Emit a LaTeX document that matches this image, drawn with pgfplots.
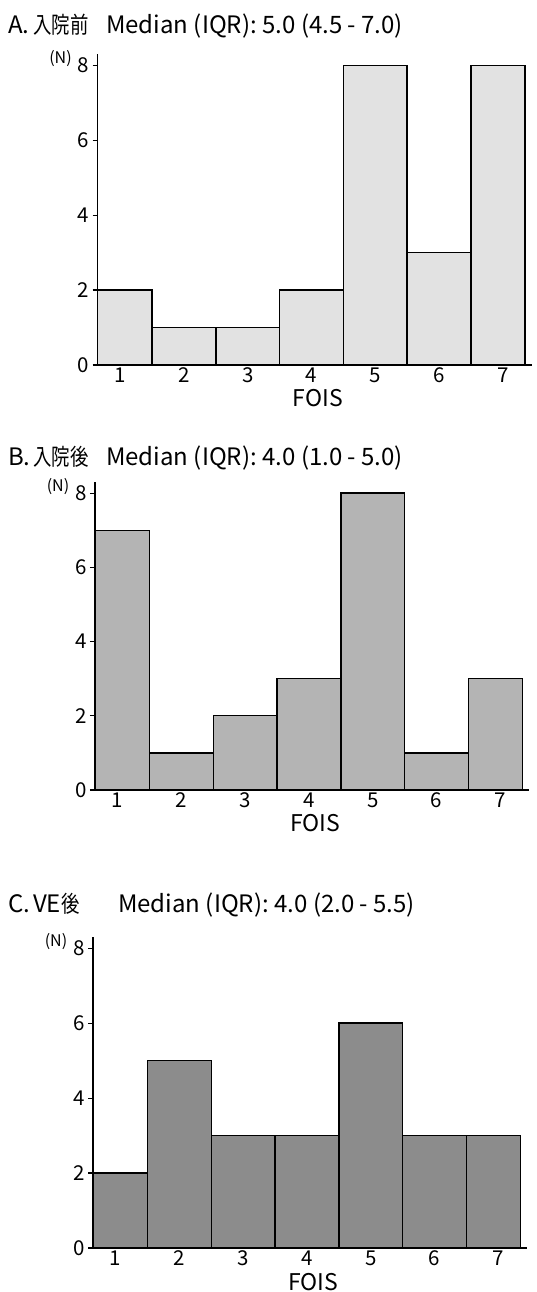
\documentclass[border=0pt]{standalone}
\usepackage{fontspec}
\setmainfont{Noto Sans CJK JP}
\usepackage{graphicx}
\newcommand\kj[1]{\scalebox{0.8}[1]{\fontsize{23}{23}\selectfont #1}}
\usepackage{pgfplots}
\pgfplotsset{compat=1.18}
\definecolor{fillA}{HTML}{E2E2E2}
\definecolor{fillB}{HTML}{B4B4B4}
\definecolor{fillC}{HTML}{8C8C8C}
\pgfplotsset{
  fois/.style={
    scale only axis,
    width=434pt,
    xmin=0.645, xmax=7.45, ymin=0, ymax=8.3,
    axis x line=bottom, axis y line=left,
    axis line style={-, line width=1.3pt, black},
    xtick={1,2,3,4,5,6,7}, ytick={0,2,4,6,8},
    x tick style={draw=none},
    y tick style={line width=1.2pt, black},
    major tick length=5pt, tick align=outside,
    tick label style={font=\fontsize{20.5}{20.5}\selectfont},
    x tick label style={anchor=base, inner sep=0pt, text height=0.66em, text depth=0pt, yshift=-13pt},
    /pgf/number format/assume math mode=true,
    xlabel={FOIS},
    xlabel style={font=\fontsize{23}{23}\selectfont, at={(axis cs:4.1,0)}, anchor=base, inner sep=0pt, text height=0.66em, text depth=0pt, yshift=-42pt},
    clip=false,
    anchor=south west,
  },
  hist/.style={ybar interval, draw=black, line width=1.4pt, fill=#1},
}
\begin{document}
\begin{tikzpicture}
\useasboundingbox (0,0) rectangle (537pt,1292pt);
\tikzset{ttl/.style={anchor=base west, inner sep=0pt, font=\fontsize{24}{24}\selectfont}}
% titles
\node[ttl] at (8pt,1258.5pt) {A.};
\node[ttl] at (33pt,1258.5pt) {\kj{入院前}};
\node[ttl] at (106pt,1258.5pt) {Median (IQR): 5.0 (4.5 - 7.0)};
\node[ttl] at (8pt,826.5pt) {B.};
\node[ttl] at (33pt,826.5pt) {\kj{入院後}};
\node[ttl] at (106pt,826.5pt) {Median (IQR): 4.0 (1.0 - 5.0)};
\node[ttl] at (8pt,379.5pt) {C.\hspace{0.12em}VE\kj{後}};
\node[ttl] at (118pt,379.5pt) {Median (IQR): 4.0 (2.0 - 5.5)};

% Panel A
\begin{axis}[fois, at={(97.5pt,927pt)}, height=311pt]
\addplot[hist=fillA] coordinates {(0.645,2) (1.5,1) (2.5,1) (3.5,2) (4.5,8) (5.5,3) (6.5,8) (7.345,8)};
\node[font=\fontsize{16}{16}\selectfont] at ([xshift=-37pt,yshift=7pt]axis cs:0.645,8) {(N)};
\end{axis}

% Panel B
\begin{axis}[fois, at={(95pt,502pt)}, height=308pt]
\addplot[hist=fillB] coordinates {(0.645,7) (1.5,1) (2.5,2) (3.5,3) (4.5,8) (5.5,1) (6.5,3) (7.345,3)};
\node[font=\fontsize{16}{16}\selectfont] at ([xshift=-37pt,yshift=7pt]axis cs:0.645,8) {(N)};
\end{axis}

% Panel C
\begin{axis}[fois, at={(93pt,44pt)}, height=311pt]
\addplot[hist=fillC] coordinates {(0.645,2) (1.5,5) (2.5,3) (3.5,3) (4.5,6) (5.5,3) (6.5,3) (7.345,3)};
\node[font=\fontsize{16}{16}\selectfont] at ([xshift=-37pt,yshift=7pt]axis cs:0.645,8) {(N)};
\end{axis}
\end{tikzpicture}
\end{document}
